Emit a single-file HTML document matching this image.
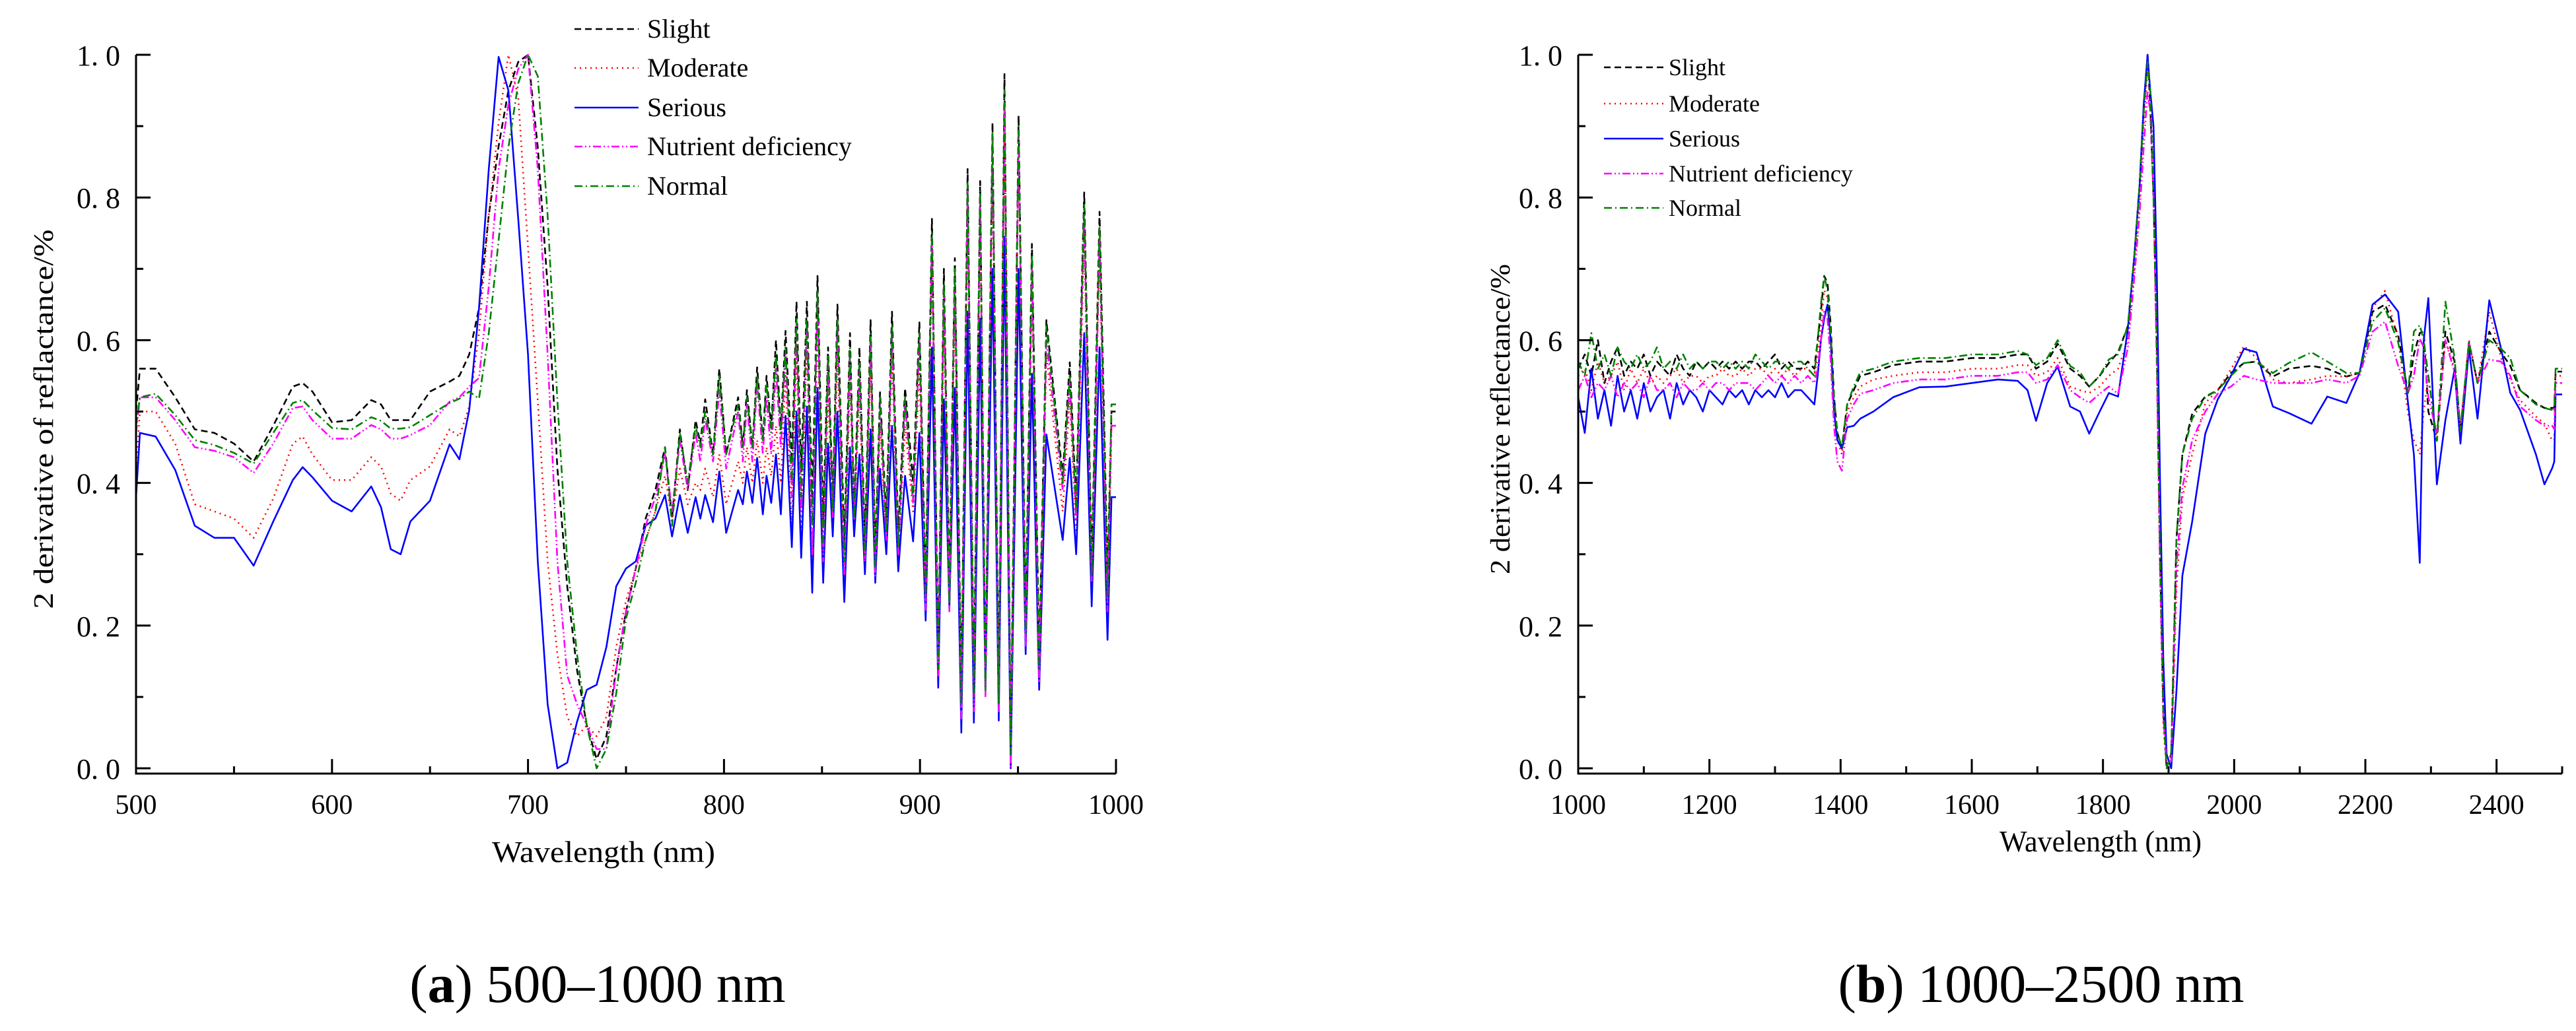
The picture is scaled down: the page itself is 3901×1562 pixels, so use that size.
<!DOCTYPE html>
<html><head><meta charset="utf-8"><style>
html,body{margin:0;padding:0;background:#fff;}
svg{display:block;font-family:"Liberation Serif",serif;}
svg text{font-family:"Liberation Serif",serif;}
</style></head><body>
<svg id="fig" width="3901" height="1562" viewBox="0 0 3901 1562" xmlns="http://www.w3.org/2000/svg" font-family="Liberation Serif, serif">
<rect width="3901" height="1562" fill="#fff"/>
<g id="chartA"></g>
<g id="chartB"></g>
<text x="905" y="1518" font-size="82" text-anchor="middle">(<tspan font-weight="bold">a</tspan>) 500–1000 nm</text>
<text x="3091" y="1518" font-size="82" text-anchor="middle">(<tspan font-weight="bold">b</tspan>) 1000–2500 nm</text>
</svg>
<script>
const seriesNames = ["Slight","Moderate","Serious","Nutrient deficiency","Normal"];
const seriesColors = ["#000000","#ff0000","#0000ff","#ff00ff","#008000"];
const seriesDash = ["10,6","2,6","","12,4,2,4,2,4","12,5,2,5"];

// ---- Chart A (500-1000 nm) ----
const wlA_smooth = [500,502,510,520,530,540,550,560,570,580,585,590,600,610,620,625,630,635,640,650,660,665,670,675,680,685,690,695,700,705,710,715,720,725,730,735,740,745,750,755,760,765];
const wlA_osc = [769.9,773.5,777.5,781.5,785.5,787.9,790.4,794.4,797.6,801.1,807.2,809.6,811.7,814.5,816.9,819.8,821.7,824.1,826.5,829,831.4,834.6,837,839.4,842.3,845,847.7,850.6,853.1,855.5,857.9,861.4,864.3,866.4,869.1,871.9,874.8,877.2,879.6,882.8,885.7,888.9,892.4,896.5,899.7,902.9,906.1,909.3,912.2,915,917.8,921.1,924.3,927.5,930.7,933.4,937,940.2,943.1,946.3,950.3,953.9,957.1,960.8,964.5,972.8,976.4,979.7,983.8,987.6,991.6,995.7,997.7,1000];
const slightA_smooth = [.50,.56,.56,.52,.475,.47,.455,.43,.48,.535,.54,.528,.485,.488,.516,.51,.488,.488,.488,.528,.542,.55,.58,.645,.775,.872,.95,.99,1.0,.87,.675,.42,.255,.138,.06,.013,.045,.14,.22,.28,.35,.39];
const slightA_osc = [.45,.35,.475,.39,.488,.455,.517,.44,.56,.44,.52,.45,.53,.45,.562,.46,.55,.478,.60,.475,.613,.43,.654,.416,.654,.377,.69,.35,.59,.377,.65,.318,.61,.36,.59,.318,.628,.30,.527,.35,.64,.33,.533,.40,.625,.253,.77,.155,.70,.25,.715,.103,.84,.116,.823,.12,.905,.097,.973,.025,.915,.205,.735,.155,.628,.41,.569,.375,.807,.285,.78,.27,.50,.50];
const moderateA_smooth = [.42,.50,.50,.455,.37,.36,.35,.323,.378,.455,.465,.44,.404,.404,.436,.423,.385,.375,.404,.423,.475,.465,.507,.61,.775,.905,1.0,.94,.73,.515,.29,.16,.072,.045,.06,.045,.072,.17,.235,.28,.32,.36];
const moderateA_osc = [.41,.35,.42,.37,.40,.39,.42,.38,.44,.37,.43,.40,.45,.40,.46,.40,.45,.41,.48,.40,.55,.34,.59,.32,.60,.28,.63,.28,.53,.34,.58,.26,.55,.34,.53,.28,.57,.27,.48,.32,.58,.30,.48,.36,.56,.23,.72,.13,.64,.23,.66,.07,.79,.09,.78,.11,.85,.08,.92,.01,.87,.18,.68,.13,.58,.36,.52,.33,.75,.25,.73,.22,.48,.48];
const seriousA_smooth = [.38,.47,.465,.418,.34,.323,.323,.284,.346,.404,.422,.408,.375,.36,.395,.366,.307,.30,.346,.375,.454,.433,.502,.645,.84,.997,.95,.77,.58,.29,.09,.0,.008,.065,.11,.117,.17,.255,.28,.29,.34,.35];
const seriousA_osc = [.383,.325,.383,.33,.38,.35,.383,.345,.416,.33,.39,.37,.416,.372,.435,.356,.41,.372,.44,.356,.494,.31,.50,.295,.507,.246,.533,.26,.455,.325,.50,.233,.45,.325,.44,.272,.475,.26,.42,.30,.48,.276,.41,.318,.47,.207,.59,.113,.517,.224,.533,.05,.64,.064,.63,.11,.70,.067,.745,.0,.70,.16,.553,.11,.468,.32,.435,.30,.61,.227,.59,.18,.38,.38];
const nutrientA_smooth = [.47,.52,.52,.488,.45,.445,.436,.414,.455,.505,.507,.488,.462,.462,.481,.475,.462,.462,.467,.481,.514,.52,.535,.547,.675,.84,.93,.98,1.0,.84,.58,.29,.13,.09,.06,.027,.027,.138,.22,.28,.34,.38];
const nutrientA_osc = [.44,.36,.46,.39,.47,.43,.49,.43,.53,.42,.50,.43,.51,.43,.54,.44,.52,.44,.56,.45,.58,.38,.62,.36,.62,.30,.66,.29,.57,.35,.62,.27,.58,.35,.56,.29,.60,.27,.51,.32,.61,.30,.51,.37,.60,.22,.74,.13,.67,.22,.69,.07,.81,.08,.80,.10,.88,.08,.93,.0,.89,.17,.70,.12,.60,.39,.54,.35,.77,.26,.74,.22,.48,.48];
const normalA_smooth = [.48,.52,.525,.495,.46,.453,.442,.427,.47,.512,.516,.502,.477,.475,.492,.487,.476,.476,.478,.495,.512,.518,.528,.518,.61,.74,.87,.96,1.0,.97,.775,.515,.29,.16,.06,.0,.027,.105,.21,.26,.32,.36];
const normalA_osc = [.45,.34,.47,.40,.48,.45,.50,.44,.55,.44,.51,.45,.52,.45,.55,.46,.54,.47,.58,.47,.59,.40,.63,.38,.63,.34,.67,.31,.58,.36,.63,.29,.59,.35,.57,.30,.61,.28,.52,.33,.62,.31,.52,.38,.61,.24,.75,.14,.68,.23,.70,.09,.82,.10,.81,.11,.89,.09,.95,.02,.90,.19,.72,.14,.62,.40,.55,.36,.79,.27,.76,.24,.51,.51];
const xTicksA = [500,600,700,800,900,1000];
const yTicks = [0,0.2,0.4,0.6,0.8,1.0];
const yTickLabels = ["0. 0","0. 2","0. 4","0. 6","0. 8","1. 0"];

// ---- Chart B (1000-2500 nm) ----
const wlB_noise = [1000,1010,1020,1030,1040,1050,1060,1070,1080,1090,1100,1110,1120,1130,1140,1150,1160,1170,1180,1190,1200,1210,1220,1230,1240,1250,1260,1270,1280,1290,1300,1310,1320,1330,1340,1350,1360];
const wlB_feat = [1365,1370,1375,1380,1385,1390,1395,1402,1410,1420,1430,1450,1480,1520,1560,1600,1640,1670,1685,1698,1715,1731,1750,1765,1779,1795,1809,1823,1838,1848,1856,1862,1868,1872,1877,1882,1887,1892,1897,1904,1912,1921,1936,1956,1975,1995,2015,2034,2059,2083,2118,2142,2171,2191,2211,2230,2250,2265,2274,2283,2289,2296,2309,2322,2336,2345,2358,2371,2389,2407,2421,2436,2460,2473,2485,2488,2490,2500];
const slightB_noise = [.56,.58,.55,.60,.54,.57,.59,.55,.57,.56,.58,.55,.57,.56,.55,.58,.56,.55,.57,.56,.57,.56,.57,.56,.57,.56,.57,.57,.56,.57,.58,.56,.57,.56,.56,.57,.56];
const slightB_feat = [.60,.64,.69,.68,.62,.52,.47,.45,.51,.53,.55,.555,.565,.57,.57,.575,.575,.58,.58,.56,.57,.595,.56,.55,.535,.55,.568,.583,.62,.72,.82,.92,1.0,.93,.80,.60,.30,.08,.0,.02,.32,.44,.497,.521,.53,.554,.568,.57,.549,.56,.564,.56,.549,.554,.64,.65,.607,.526,.58,.61,.612,.50,.459,.612,.57,.474,.597,.54,.612,.583,.564,.53,.512,.505,.505,.505,.556,.556];
const moderateB_noise = [.55,.56,.53,.57,.54,.55,.57,.53,.56,.54,.56,.54,.55,.54,.55,.56,.54,.55,.55,.54,.55,.55,.56,.55,.55,.56,.55,.56,.56,.55,.56,.55,.56,.55,.56,.56,.55];
const moderateB_feat = [.58,.62,.67,.66,.60,.51,.46,.44,.50,.52,.535,.545,.55,.555,.555,.56,.56,.565,.565,.55,.555,.575,.535,.53,.526,.535,.55,.56,.60,.70,.80,.90,.98,.95,.82,.58,.27,.06,.0,.0,.25,.379,.44,.512,.53,.559,.592,.575,.545,.54,.545,.55,.549,.554,.645,.669,.602,.497,.46,.44,.50,.55,.459,.60,.56,.474,.60,.54,.64,.575,.545,.516,.493,.483,.459,.46,.55,.55];
const seriousB_noise = [.52,.47,.56,.49,.53,.48,.55,.50,.53,.49,.54,.50,.52,.53,.49,.54,.51,.53,.52,.50,.53,.52,.51,.53,.52,.53,.51,.53,.52,.53,.52,.54,.52,.53,.53,.52,.51];
const seriousB_feat = [.55,.60,.63,.65,.60,.50,.46,.448,.478,.48,.49,.50,.52,.534,.535,.54,.545,.543,.53,.487,.54,.563,.507,.50,.469,.50,.526,.521,.616,.72,.82,.93,1.0,.95,.90,.70,.40,.15,.02,.0,.108,.27,.346,.469,.517,.55,.588,.583,.507,.498,.483,.521,.512,.554,.65,.664,.64,.512,.44,.288,.60,.659,.398,.488,.559,.455,.588,.49,.656,.588,.526,.502,.44,.398,.421,.43,.524,.524];
const nutrientB_noise = [.53,.55,.52,.54,.53,.55,.52,.54,.53,.54,.52,.55,.53,.53,.54,.52,.54,.53,.53,.54,.53,.54,.54,.53,.54,.54,.54,.53,.54,.55,.54,.55,.54,.55,.54,.55,.54];
const nutrientB_feat = [.56,.60,.64,.63,.57,.48,.43,.417,.49,.51,.525,.53,.54,.545,.545,.55,.55,.555,.555,.54,.545,.565,.53,.52,.512,.525,.535,.525,.59,.69,.78,.87,.95,.92,.80,.57,.28,.07,.01,.01,.28,.393,.46,.50,.525,.535,.55,.545,.54,.54,.54,.545,.54,.55,.612,.626,.564,.526,.55,.602,.59,.52,.47,.60,.555,.474,.597,.54,.573,.57,.55,.507,.488,.48,.48,.475,.54,.54];
const normalB_noise = [.57,.55,.61,.56,.58,.55,.59,.57,.56,.58,.56,.57,.59,.56,.57,.56,.58,.56,.57,.56,.57,.57,.56,.57,.56,.57,.56,.58,.57,.56,.57,.57,.56,.57,.57,.56,.55];
const normalB_feat = [.60,.65,.69,.67,.61,.52,.47,.45,.51,.535,.555,.56,.57,.575,.575,.58,.58,.585,.58,.565,.575,.60,.564,.555,.535,.55,.573,.58,.62,.72,.82,.92,.99,.95,.80,.60,.30,.08,.0,.02,.322,.44,.49,.52,.53,.55,.568,.57,.554,.568,.583,.57,.554,.554,.626,.645,.597,.526,.612,.621,.60,.55,.459,.654,.575,.474,.597,.54,.60,.588,.575,.53,.51,.505,.502,.50,.56,.56];
const xTicksB = [1000,1200,1400,1600,1800,2000,2200,2400];

const NS = "http://www.w3.org/2000/svg";
function mk(tag, attrs, parent){
  const e = document.createElementNS(NS, tag);
  for (const k in attrs) e.setAttribute(k, attrs[k]);
  parent.appendChild(e);
  return e;
}
const FF = "Liberation Serif, serif";

function drawChart(g, cfg){
  const xs = v => cfg.x0 + (v - cfg.xmin) / (cfg.xmax - cfg.xmin) * (cfg.x1 - cfg.x0);
  const ys = v => cfg.yZero - v * (cfg.yZero - cfg.yOne);
  cfg.series.forEach((vals, i) => {
    let d = "";
    cfg.wl.forEach((w, j) => { d += (j ? "L" : "M") + xs(w).toFixed(1) + "," + ys(vals[j]).toFixed(1); });
    const p = mk("path", {d: d, fill: "none", stroke: seriesColors[i], "stroke-width": 2.6, "stroke-linejoin": "round"}, g);
    if (seriesDash[i]) p.setAttribute("stroke-dasharray", seriesDash[i]);
    
    
  });
  const ax = mk("path", {d: `M${cfg.x0},${cfg.yOne}V${cfg.yAxis}H${cfg.x1}`, fill: "none", stroke: "#000", "stroke-width": 3}, g);
  
  
  for (let k = 0; k <= 10; k++) {
    const v = k / 10, y = ys(v), major = k % 2 === 0;
    const t = mk("line", {x1: cfg.x0, x2: cfg.x0 + (major ? 22 : 11), y1: y, y2: y, stroke: "#000", "stroke-width": 3}, g);
    
    
  }
  yTicks.forEach((v, i) => {
    const t = mk("text", {x: cfg.x0 - 24, y: ys(v) + 16, "font-size": 44, "text-anchor": "end", "font-family": FF}, g);
    t.textContent = yTickLabels[i];
    
    
  });
  for (let w = cfg.xmin; w <= cfg.xmax + 0.001; w += cfg.minor) {
    const major = Math.abs(((w - cfg.xmin) / cfg.major) - Math.round((w - cfg.xmin) / cfg.major)) < 1e-6;
    const t = mk("line", {x1: xs(w), x2: xs(w), y1: cfg.yAxis, y2: cfg.yAxis - (major ? 22 : 11), stroke: "#000", "stroke-width": 3}, g);
    
    
  }
  cfg.xTicks.forEach(w => {
    const t = mk("text", {x: xs(w), y: 1233, "font-size": 42, "text-anchor": "middle", "font-family": FF}, g);
    t.textContent = String(w);
    
    
  });
  const xt = mk("text", {x: cfg.xtX, y: cfg.xtY, "font-size": 46, "text-anchor": "middle", textLength: cfg.xtLen, lengthAdjust: "spacingAndGlyphs", "font-family": FF}, g);
  xt.textContent = "Wavelength (nm)";
  
  
  const yt = mk("text", {x: 0, y: 0, "font-size": 42, "text-anchor": "middle", textLength: cfg.ytLen, lengthAdjust: "spacingAndGlyphs", "font-family": FF, transform: `translate(${cfg.ytX},635) rotate(-90)`}, g);
  yt.textContent = cfg.ytText;
  
  
  const lg = mk("g", {}, g);
  
  
  seriesNames.forEach((n, i) => {
    const y = cfg.legY[i];
    const l = mk("line", {x1: cfg.legX0, x2: cfg.legX1, y1: y, y2: y, stroke: seriesColors[i], "stroke-width": 2.4}, lg);
    if (seriesDash[i]) l.setAttribute("stroke-dasharray", seriesDash[i]);
    
    
    const t = mk("text", {x: cfg.legTx, y: y + cfg.legFs * 0.33, "font-size": cfg.legFs, "font-family": FF}, lg);
    t.textContent = n;
    
    
  });
}

drawChart(document.getElementById("chartA"), {
  x0: 206, x1: 1690, xmin: 500, xmax: 1000, yOne: 83, yZero: 1164, yAxis: 1172,
  minor: 50, major: 100, xTicks: xTicksA,
  wl: wlA_smooth.concat(wlA_osc),
  series: [slightA_smooth.concat(slightA_osc), moderateA_smooth.concat(moderateA_osc), seriousA_smooth.concat(seriousA_osc), nutrientA_smooth.concat(nutrientA_osc), normalA_smooth.concat(normalA_osc)],
  xtX: 914, xtY: 1306, xtLen: 338,
  ytX: 80, ytLen: 575, ytText: "2 derivative of reflactance/%",
  legX0: 870, legX1: 967, legTx: 980, legY: [44, 103, 163, 222, 282], legFs: 40
});
drawChart(document.getElementById("chartB"), {
  x0: 2390, x1: 3880, xmin: 1000, xmax: 2500, yOne: 83, yZero: 1164, yAxis: 1172,
  minor: 100, major: 200, xTicks: xTicksB,
  wl: wlB_noise.concat(wlB_feat),
  series: [slightB_noise.concat(slightB_feat), moderateB_noise.concat(moderateB_feat), seriousB_noise.concat(seriousB_feat), nutrientB_noise.concat(nutrientB_feat), normalB_noise.concat(normalB_feat)],
  xtX: 3181, xtY: 1290, xtLen: 306,
  ytX: 2286, ytLen: 470, ytText: "2 derivative reflectance/%",
  legX0: 2429, legX1: 2519, legTx: 2527, legY: [102, 157, 210, 263, 315], legFs: 36
});
</script>
</body></html>
